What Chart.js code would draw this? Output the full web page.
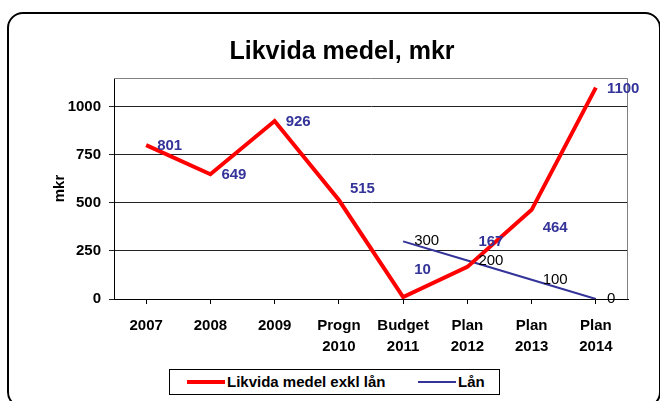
<!DOCTYPE html>
<html>
<head>
<meta charset="utf-8">
<script src="https://cdn.jsdelivr.net/npm/chart.js@4"></script>
<style>
    body { margin: 0; background: #fff; font-family: "Liberation Sans", Arial, sans-serif; }
    #wrap { position: relative; width: 660px; height: 401px; overflow: hidden; }
    #frame { position: absolute; left: 7px; top: 12px; width: 650px; height: 392px; border: 2px solid #000; border-radius: 16px; }
    canvas { position: absolute; left: 0; top: 0; }
    #title { position: absolute; left: 0; top: 35px; width: 660px; padding-left: 24px; box-sizing: border-box; text-align: center;
             font-size: 25px; line-height: 30px; font-weight: bold; color: #000; }
    #legend { position: absolute; left: 169px; top: 369px; width: 329px; height: 24px; border: 1px solid #000; background: #fff;
              font-weight: bold; font-size: 15px; }
    .item { position: absolute; top: 3px; white-space: nowrap; line-height: 18px; }
    .swatch { display: inline-block; width: 38px; vertical-align: middle; margin-right: 2px; position: relative; top: -1px; }
</style>
</head>
<body>
<div id="wrap">
    <div id="frame"></div>
    <canvas id="chart" width="660" height="401"></canvas>
    <div id="title">Likvida medel, mkr</div>
    <div id="legend">
        <span class="item" style="left:17px"><span class="swatch" style="height:4px;background:#ff0000"></span>Likvida medel exkl lån</span>
        <span class="item" style="left:248px"><span class="swatch" style="height:2px;background:#333399"></span>Lån</span>
    </div>
</div>
<script>
    const categories = ['2007', '2008', '2009', ['Progn', '2010'], ['Budget', '2011'], ['Plan', '2012'], ['Plan', '2013'], ['Plan', '2014']];
    const likvidaMedel = [801, 649, 926, 515, 10, 167, 464, 1100];
    const lan = [null, null, null, null, 300, 200, 100, 0];
    const yTicks = [0, 250, 500, 750, 1000];
    // vertical nudges for the red value labels (moved by hand in the original)
    const likvidaLabelNudge = [0, 0, 0, -12, -28, -26, 17, 0];

    const FONT = '"Liberation Sans", Arial, sans-serif';

    // gray border around plot area (top + right)
    const plotFrame = {
        id: 'plotFrame',
        beforeDatasetsDraw(chart) {
            const { ctx, chartArea: a } = chart;
            ctx.save();
            ctx.strokeStyle = '#808080';
            ctx.lineWidth = 1;
            ctx.beginPath();
            ctx.moveTo(a.left, a.top + 0.5);
            ctx.lineTo(a.right - 0.5, a.top + 0.5);
            ctx.lineTo(a.right - 0.5, a.bottom);
            ctx.stroke();
            ctx.restore();
        }
    };

    const valueLabels = {
        id: 'valueLabels',
        afterDatasetsDraw(chart) {
            const ctx = chart.ctx;
            ctx.save();
            ctx.textAlign = 'left';
            ctx.textBaseline = 'middle';
            chart.data.datasets.forEach((ds, i) => {
                const meta = chart.getDatasetMeta(i);
                meta.data.forEach((pt, j) => {
                    const v = ds.data[j];
                    if (v === null) return;
                    if (i === 0) {
                        ctx.font = 'bold 15px ' + FONT;
                        ctx.fillStyle = '#333399';
                        ctx.fillText(v, pt.x + 11, pt.y + 1 + likvidaLabelNudge[j]);
                    } else {
                        ctx.font = '15px ' + FONT;
                        ctx.fillStyle = '#000';
                        ctx.fillText(v, pt.x + 11, pt.y);
                    }
                });
            });
            ctx.restore();
        }
    };

    new Chart(document.getElementById('chart'), {
        type: 'line',
        data: {
            labels: categories,
            datasets: [
                { label: 'Likvida medel exkl lån', data: likvidaMedel, borderColor: '#ff0000', borderWidth: 4, pointRadius: 0, tension: 0 },
                { label: 'Lån', data: lan, borderColor: '#333399', borderWidth: 2, pointRadius: 0, tension: 0 }
            ]
        },
        options: {
            responsive: false,
            animation: false,
            layout: { padding: { left: 0, right: 32, top: 78, bottom: 0 } },
            plugins: {
                legend: { display: false },
                tooltip: { enabled: false }
            },
            scales: {
                x: {
                    offset: true,
                    grid: { drawOnChartArea: false, drawTicks: true, tickLength: 5, color: '#000' },
                    border: { color: '#000', width: 1 },
                    ticks: {
                        color: '#000', padding: 11, maxRotation: 0, autoSkip: false,
                        font: { family: FONT, size: 15, weight: 'bold', lineHeight: 1.4 }
                    },
                    afterFit(scale) { scale.height = 102; }
                },
                y: {
                    min: 0,
                    max: 1150,
                    afterBuildTicks(scale) { scale.ticks = yTicks.map(v => ({ value: v })); },
                    grid: { color: '#222', tickLength: 5 },
                    border: { color: '#000', width: 1 },
                    ticks: {
                        color: '#000', padding: 8,
                        callback: v => String(v),
                        font: { family: FONT, size: 15, weight: 'bold' }
                    },
                    title: {
                        display: true, text: 'mkr', color: '#000',
                        font: { family: FONT, size: 15, weight: 'bold' },
                        padding: { top: 51, bottom: 0 }
                    },
                    afterFit(scale) { scale.width = 114; }
                }
            }
        },
        plugins: [plotFrame, valueLabels]
    });
</script>
</body>
</html>
